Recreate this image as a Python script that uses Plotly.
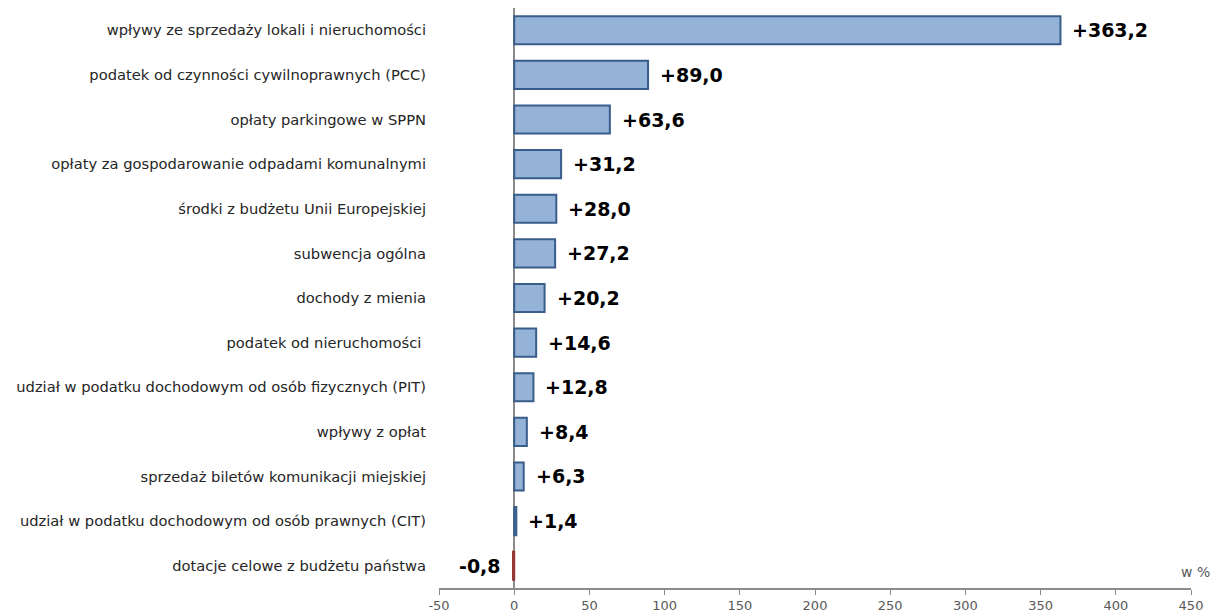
import plotly.graph_objects as go

categories = [
    "wpływy ze sprzedaży lokali i nieruchomości",
    "podatek od czynności cywilnoprawnych (PCC)",
    "opłaty parkingowe w SPPN",
    "opłaty za gospodarowanie odpadami komunalnymi",
    "środki z budżetu Unii Europejskiej",
    "subwencja ogólna",
    "dochody z mienia",
    "podatek od nieruchomości ",
    "udział w podatku dochodowym od osób fizycznych (PIT)",
    "wpływy z opłat",
    "sprzedaż biletów komunikacji miejskiej",
    "udział w podatku dochodowym od osób prawnych (CIT)",
    "dotacje celowe z budżetu państwa",
]
values = [363.2, 89.0, 63.6, 31.2, 28.0, 27.2, 20.2, 14.6, 12.8, 8.4, 6.3, 1.4, -0.8]
x_ticks = [-50, 0, 50, 100, 150, 200, 250, 300, 350, 400, 450]

labels = [f"{v:+.1f}".replace(".", ",") for v in values]
fills = ["#95B3D7" if v >= 0 else "#C0504D" for v in values]
borders = ["#385D8A" if v >= 0 else "#943634" for v in values]

fig = go.Figure()
fig.add_trace(go.Bar(
    y=categories, x=values, orientation="h", width=0.63,
    marker=dict(color=fills, line=dict(color=borders, width=2)),
    hoverinfo="skip",
))

for c, v, t in zip(categories, values, labels):
    fig.add_annotation(
        x=v, y=c, text=t, showarrow=False,
        xanchor="left" if v >= 0 else "right",
        xshift=10 if v >= 0 else -10,
        font=dict(family="DejaVu Sans", size=19, color="#000000", weight="bold"),
    )

fig.add_annotation(
    x=1.0, y=0, xref="paper", yref="paper", text="w %", showarrow=False,
    xanchor="right", yanchor="bottom", xshift=21, yshift=6,
    font=dict(family="DejaVu Sans", size=14, color="#595959"),
)

fig.update_layout(
    width=1212, height=606,
    margin=dict(l=431, r=29, t=0, b=26),
    paper_bgcolor="white", plot_bgcolor="white",
    showlegend=False,
    font=dict(family="DejaVu Sans", size=12, color="#333333"),
    xaxis=dict(
        range=[-50, 450], tickvals=x_ticks, ticktext=[str(t) for t in x_ticks],
        showgrid=False, zeroline=True, zerolinecolor="#8C8C8C", zerolinewidth=1.5,
        showline=True, linecolor="#8C8C8C", linewidth=1.5,
        ticks="outside", ticklen=5, tickcolor="#8C8C8C", tickwidth=1,
        tickfont=dict(family="DejaVu Sans", size=13, color="#595959"),
        fixedrange=True,
    ),
    yaxis=dict(
        autorange="reversed", showgrid=False, showline=False, zeroline=False,
        ticks="", ticklabelstandoff=12,
        tickfont=dict(family="DejaVu Sans", size=14.7, color="#262626"),
        fixedrange=True,
    ),
)

fig.write_html("out.html")
